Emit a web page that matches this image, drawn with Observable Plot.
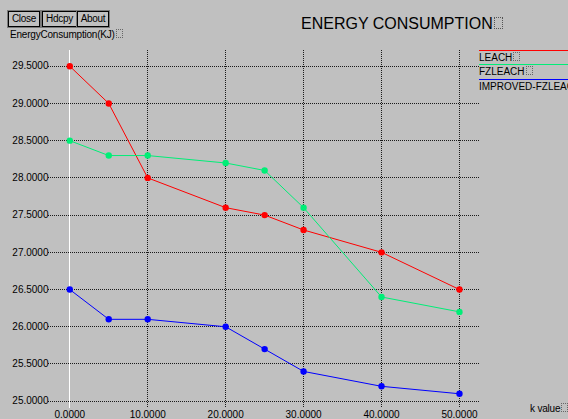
<!DOCTYPE html>
<html>
<head>
<meta charset="utf-8">
<script src="https://cdn.jsdelivr.net/npm/d3@7"></script>
<script src="https://cdn.jsdelivr.net/npm/@observablehq/plot@0.6"></script>
<style>
  html, body { margin: 0; padding: 0; }
  body { width: 568px; height: 419px; background: #c0c0c0; position: relative; overflow: hidden;
         font-family: "Liberation Sans", Arial, sans-serif; color: #000; }
  #chart { position: absolute; left: 0; top: 0; }
  .btn { position: absolute; top: 11px; height: 14px; border: 1px solid #000; box-shadow: 0 0 0 1px #7a7a7a;
         font-size: 10px; line-height: 14px; text-align: center; letter-spacing: -0.3px; }
  .lab { position: absolute; font-size: 10px; white-space: nowrap; letter-spacing: -0.2px; }
  .title { position: absolute; left: 301px; top: 15px; font-size: 16px; white-space: nowrap; }
  .leg { position: absolute; left: 479px; width: 89px; font-size: 10px; white-space: nowrap; overflow: hidden; }
  .tofu { display: inline-block; width: 5px; height: 7px; border: 1px dotted #666; margin-left: 1px; vertical-align: 0px; }
  .tofuB { display: inline-block; width: 7px; height: 10px; border: 1px dotted #555; margin-left: 1px; vertical-align: 0px; }
</style>
</head>
<body>
<div id="chart"></div>
<script>
// ---- data ----
const kValues = [0, 5, 10, 20, 25, 30, 40, 50];
const leach = [29.5, 29.0, 28.0, 27.6, 27.5, 27.3, 27.0, 26.5];
const fzleach = [28.5, 28.3, 28.3, 28.2, 28.1, 27.6, 26.4, 26.2];
const improved = [26.5, 26.1, 26.1, 26.0, 25.7, 25.4, 25.2, 25.1];
const seriesNames = ["LEACH", "FZLEACH", "IMPROVED-FZLEACH"];
const seriesColors = ["#ff0000", "#00ee77", "#0000ff"];
const xTicks = [0, 10, 20, 30, 40, 50];
const yTicks = [25.0, 25.5, 26.0, 26.5, 27.0, 27.5, 28.0, 28.5, 29.0, 29.5];
const titleText = "ENERGY CONSUMPTION";
const yLabel = "EnergyConsumption(KJ)";
const xLabel = "k value";
const buttons = ["Close", "Hdcpy", "About"];

const allSeries = [leach, fzleach, improved];
const rows = [];
allSeries.forEach((vals, si) => vals.forEach((v, i) => rows.push({k: kValues[i], e: v, s: seriesNames[si]})));

const color = {domain: seriesNames, range: seriesColors};
const fmt = d => d.toFixed(4);

const plot = Plot.plot({
  width: 568,
  height: 419,
  marginLeft: 48,
  marginRight: 89,
  marginTop: 49.5,
  marginBottom: 11,
  style: {background: "transparent", fontFamily: "Liberation Sans, Arial, sans-serif", fontSize: "10px", overflow: "visible"},
  x: {domain: [-2.73, 52.57], axis: null},
  y: {domain: [24.902, 29.718], axis: null},
  color: color,
  marks: [
    Plot.ruleY(yTicks, {stroke: "#1a1a1a", strokeDasharray: "1,1", strokeWidth: 1, shapeRendering: "crispEdges"}),
    Plot.ruleX(xTicks.filter(d => d !== 0), {stroke: "#1a1a1a", strokeDasharray: "1,1", strokeWidth: 1, shapeRendering: "crispEdges"}),
    Plot.ruleX([0], {stroke: "#ffffff", strokeWidth: 1, shapeRendering: "crispEdges"}),
    Plot.text(yTicks, {y: d => d, text: fmt, frameAnchor: "left", textAnchor: "end", dx: 0, fill: "#000"}),
    Plot.text(xTicks, {x: d => d, text: fmt, frameAnchor: "bottom", lineAnchor: "bottom", dy: 9, fill: "#000"}),
    Plot.line(rows, {x: "k", y: "e", z: "s", stroke: "s", strokeWidth: 1}),
    Plot.dot(rows, {x: "k", y: "e", fill: "s", r: 3.2, symbol: "circle"})
  ]
});
document.getElementById("chart").appendChild(plot);

// ---- frame text / legend ----
const body = document.body;
const btnPos = [[8, 30], [42, 33], [77, 30]];
buttons.forEach((b, i) => {
  const d = document.createElement("div");
  d.className = "btn";
  d.style.left = btnPos[i][0] + "px";
  d.style.width = btnPos[i][1] + "px";
  d.textContent = b;
  body.appendChild(d);
});
const t = document.createElement("div");
t.className = "title";
t.innerHTML = titleText + '<span class="tofuB"></span>';
body.appendChild(t);
const yl = document.createElement("div");
yl.className = "lab";
yl.style.left = "10px"; yl.style.top = "29px";
yl.innerHTML = yLabel + '<span class="tofu"></span>';
body.appendChild(yl);
const xl = document.createElement("div");
xl.className = "lab";
xl.style.left = "530px"; xl.style.top = "403px";
xl.innerHTML = xLabel + '<span class="tofu"></span>';
body.appendChild(xl);
seriesNames.forEach((n, i) => {
  const d = document.createElement("div");
  d.className = "leg";
  d.style.top = (49.5 + i * 14.5) + "px";
  d.style.borderTop = "1.5px solid " + seriesColors[i];
  d.style.paddingTop = "1px";
  d.innerHTML = n + (i < 2 ? '<span class="tofu"></span>' : "");
  body.appendChild(d);
});
</script>
</body>
</html>
